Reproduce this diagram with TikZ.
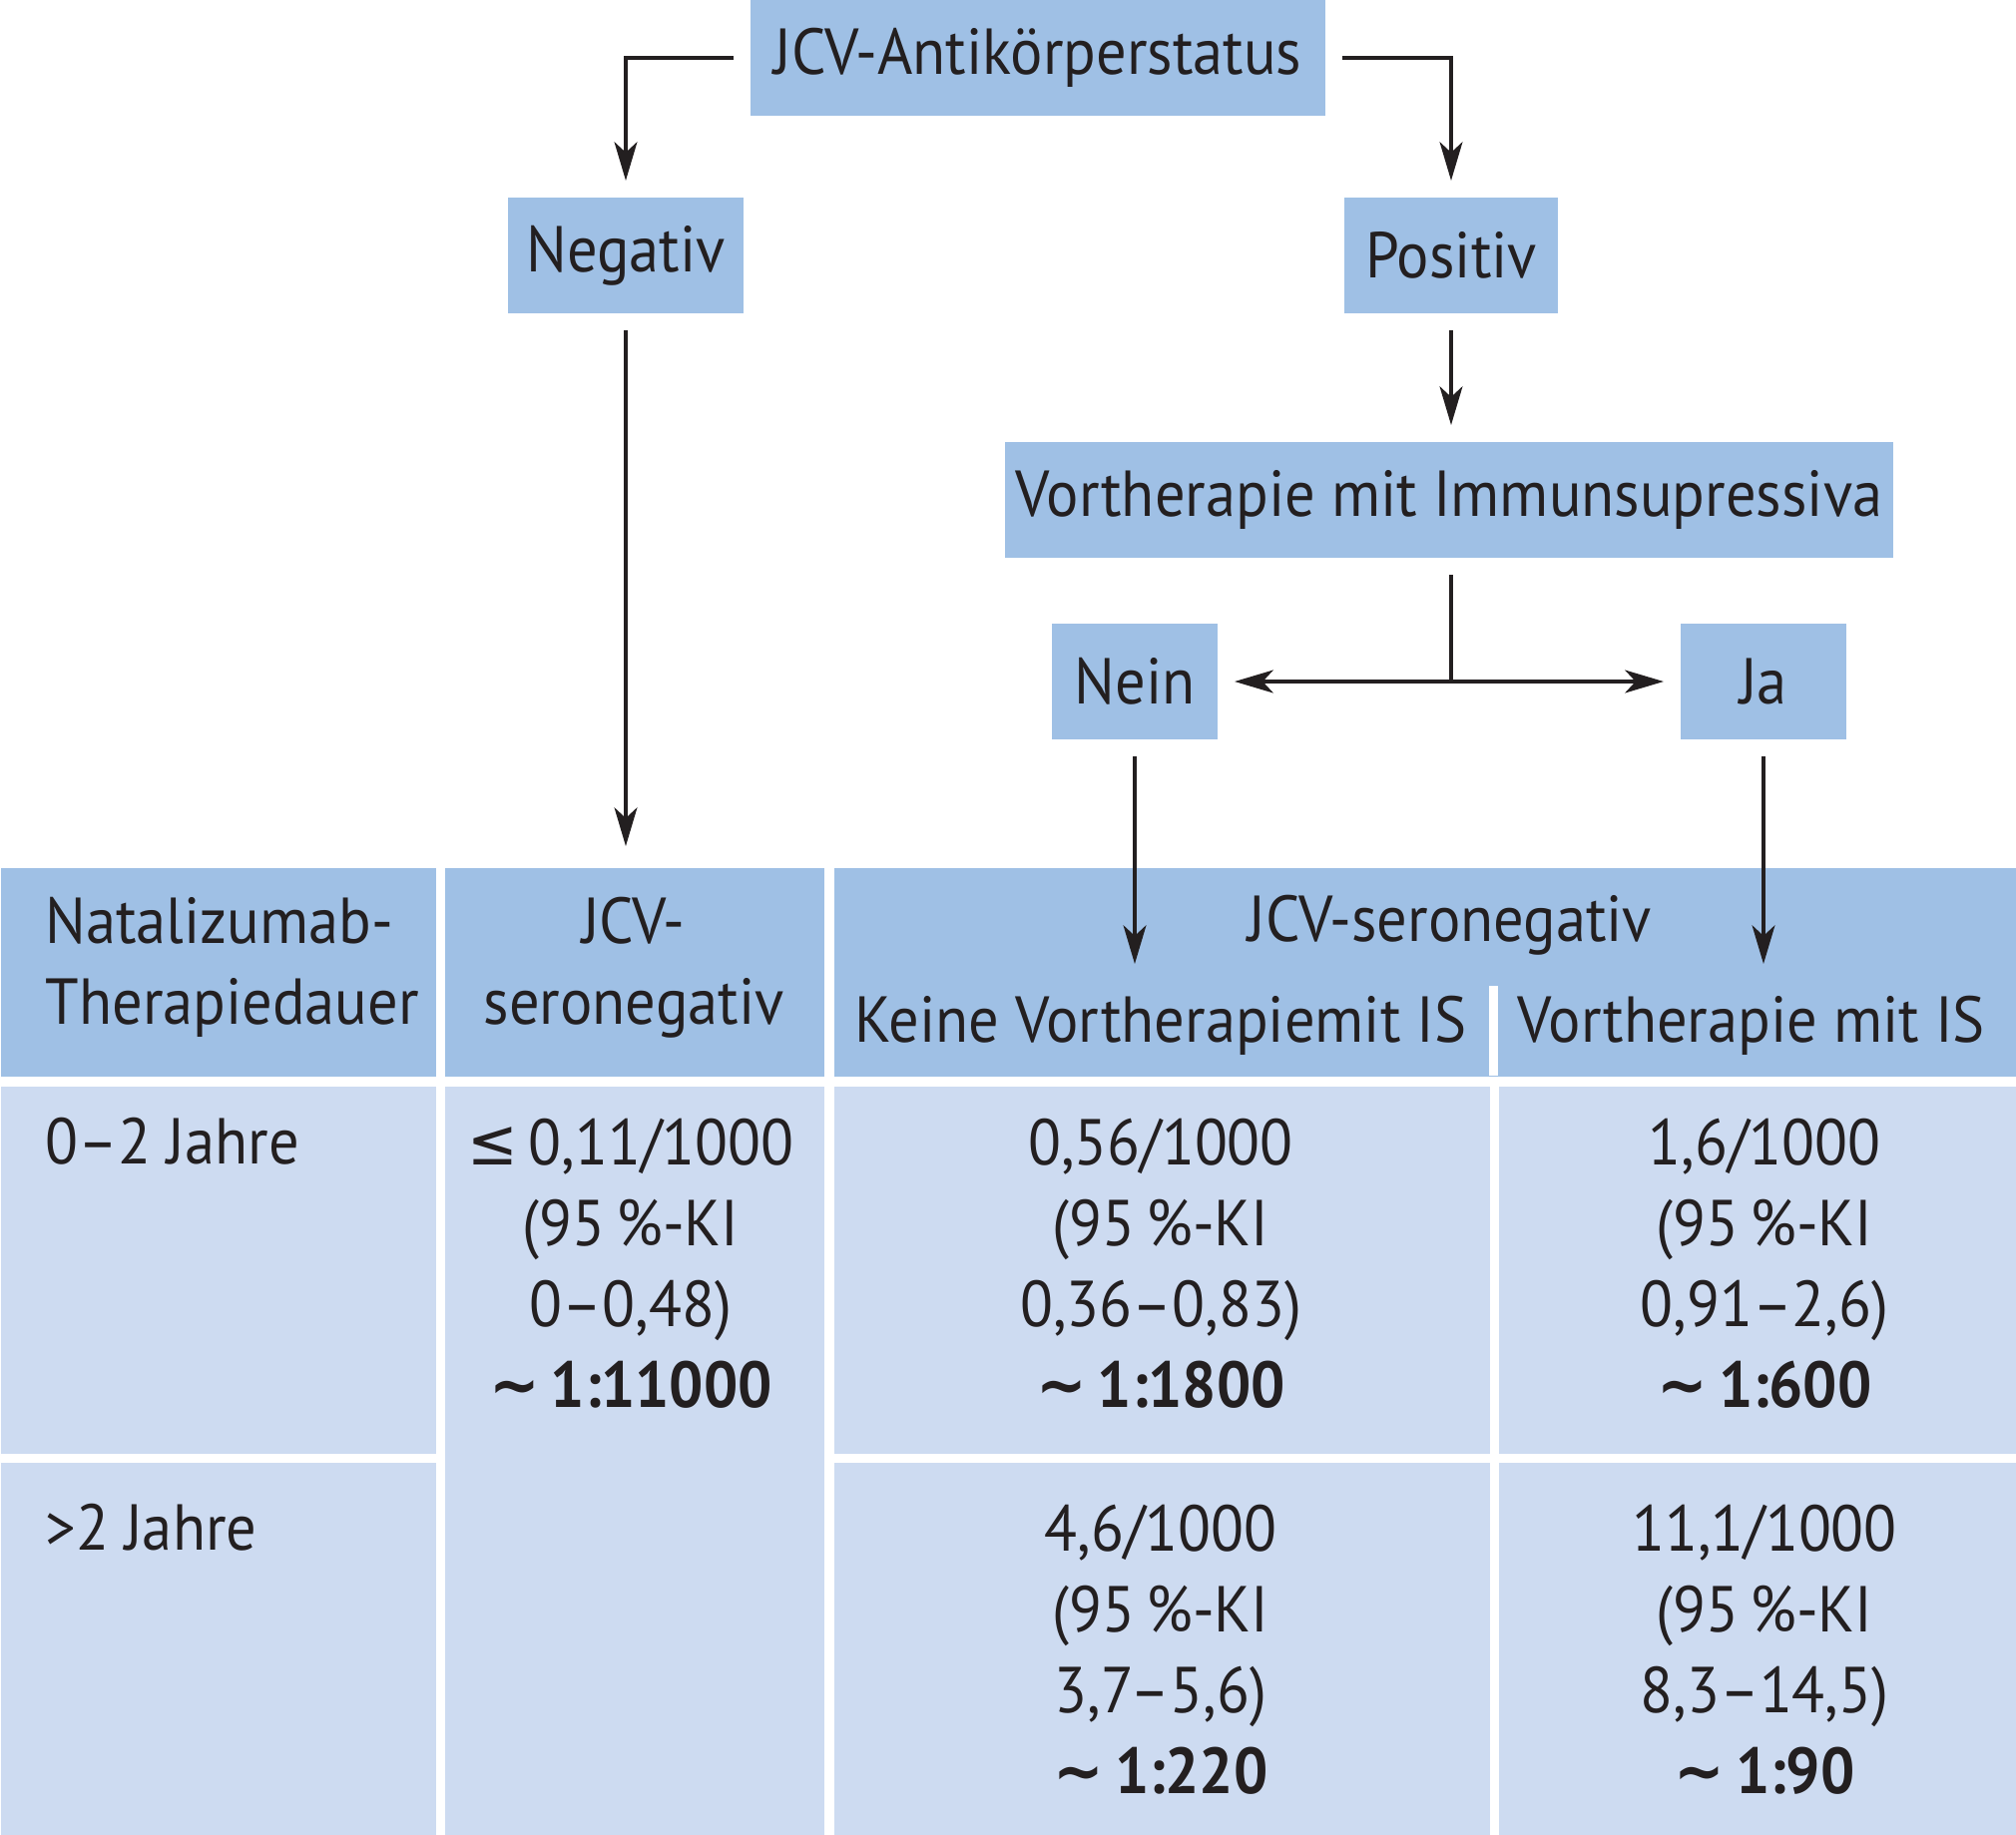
\documentclass[tikz,border=0pt]{standalone}
\usepackage{fontspec}
\setmainfont{PT Sans}[FakeStretch=0.93]
\newfontfamily\symfont{DejaVu Sans}[FakeStretch=0.93]
\usepackage{xcolor}
\usetikzlibrary{arrows.meta}
\definecolor{boxblue}{RGB}{159,192,229}
\definecolor{cellblue}{RGB}{205,219,241}
\definecolor{ink}{RGB}{35,31,32}
\newcommand{\approxto}{{\symfont ∼}\,}

\begin{document}
\begin{tikzpicture}[x=0.01cm,y=-0.01cm,
    every node/.style={text=ink,font=\fontsize{18.5}{23}\selectfont},
    flowbox/.style={fill=boxblue,minimum height=1.16cm,inner sep=0pt,outer sep=0.17cm},
    headcell/.style={fill=boxblue,anchor=north west,inner sep=0pt},
    bodycell/.style={fill=cellblue,anchor=north west,inner sep=0pt},
    celltext/.style={align=center,anchor=base},
    lefttext/.style={align=left,anchor=base west,inner xsep=0pt},
    arr/.style={draw=ink,line width=1.1pt,-{Stealth[length=11pt,width=6.5pt,inset=3pt]}}]
    \useasboundingbox (0,0) rectangle (2020,1838);

    % table
    \node[headcell,minimum width=4.36cm,minimum height=2.09cm] (hdur) at (0,869) {};
    \node[headcell,minimum width=3.80cm,minimum height=2.09cm] (hneg) at (445,869) {};
    \node[headcell,minimum width=11.85cm,minimum height=2.09cm] (hpos) at (835,869) {};
    \fill[white] (1492,988) rectangle (1501,1078);

    \node[bodycell,minimum width=4.36cm,minimum height=3.68cm] (durA) at (0,1088) {};
    \node[bodycell,minimum width=4.36cm,minimum height=3.73cm] (durB) at (0,1465) {};
    \node[bodycell,minimum width=3.80cm,minimum height=7.50cm] (negAB) at (445,1088) {};
    \node[bodycell,minimum width=6.57cm,minimum height=3.68cm] (neinA) at (835,1088) {};
    \node[bodycell,minimum width=5.19cm,minimum height=3.68cm] (jaA) at (1501,1088) {};
    \node[bodycell,minimum width=6.57cm,minimum height=3.73cm] (neinB) at (835,1465) {};
    \node[bodycell,minimum width=5.19cm,minimum height=3.73cm] (jaB) at (1501,1465) {};

    \node[lefttext] (tdur) at (45,1026) {Natalizumab-\\Therapiedauer};
    \node[celltext] (tneg) at (635,1026) {JCV-\\seronegativ};
    \node[celltext] (tpos) at (1453,943) {JCV-seronegativ};
    \node[celltext] (tnein) at (1163,1044) {Keine Vortherapiemit IS};
    \node[celltext] (tja) at (1755,1044) {Vortherapie mit IS};

    \node[lefttext] (tdurA) at (45,1166) {0–2 Jahre};
    \node[lefttext] (tdurB) at (45,1553) {>2 Jahre};
    \node[celltext] (tnegA) at (632,1410) {{\symfont ≤}\,0,11/1000\\(95\,\%-KI\\0–0,48)\\\textbf{\approxto1:11000}};
    \node[celltext] (tneinA) at (1163,1410) {0,56/1000\\(95\,\%-KI\\0,36–0,83)\\\textbf{\approxto1:1800}};
    \node[celltext] (tjaA) at (1768,1410) {1,6/1000\\(95\,\%-KI\\0,91–2,6)\\\textbf{\approxto1:600}};
    \node[celltext] (tneinB) at (1163,1797) {4,6/1000\\(95\,\%-KI\\3,7–5,6)\\\textbf{\approxto1:220}};
    \node[celltext] (tjaB) at (1768,1797) {11,1/1000\\(95\,\%-KI\\8,3–14,5)\\\textbf{\approxto1:90}};

    % flow
    \node[flowbox,minimum width=5.75cm] (status) at (1040,58) {JCV-Antikörperstatus};
    \node[flowbox,minimum width=2.36cm] (negativ) at (627,256) {Negativ};
    \node[flowbox,minimum width=2.14cm] (positiv) at (1454,256) {Positiv};
    \node[flowbox,minimum width=8.90cm] (vorth) at (1452,501) {Vortherapie mit Immunsupressiva};
    \node[flowbox,minimum width=1.66cm] (nein) at (1137,683) {Nein};
    \node[flowbox,minimum width=1.66cm] (ja) at (1767,683) {Ja};

    \coordinate (split) at (1454,683);
    \coordinate (endneg) at (627,848);
    \coordinate (endnein) at (1137,966);
    \coordinate (endja) at (1767,966);

    \draw[arr] (status.west) -| (negativ.north);
    \draw[arr] (status.east) -| (positiv.north);
    \draw[arr] (positiv.south) -- (positiv.south |- vorth.north);
    \draw[arr] (negativ.south) -- (endneg);
    \draw[draw=ink,line width=1.1pt] (vorth.south -| split) -- (split);
    \draw[arr] (split) -- (nein.east);
    \draw[arr] (split) -- (ja.west);
    \draw[arr] (nein.south) -- (endnein);
    \draw[arr] (ja.south) -- (endja);
\end{tikzpicture}
\end{document}
